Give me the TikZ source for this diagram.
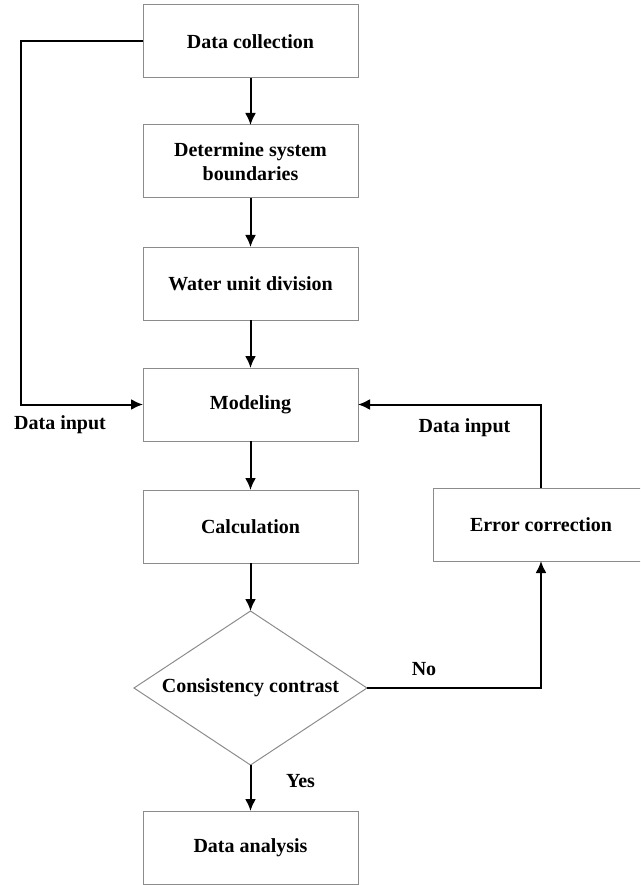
\documentclass[tikz,border=0pt]{standalone}
\usepackage{fontspec}
\setmainfont{Liberation Serif}
\usetikzlibrary{positioning,shapes.geometric,arrows.meta}

\tikzset{
	box/.style={draw=black!45,line width=1pt,minimum width=215pt,minimum height=73pt,
		inner sep=0pt,outer sep=0pt,align=center,font=\fontsize{20}{24}\selectfont\bfseries},
	decide/.style={diamond,draw=black!45,line width=1pt,minimum width=233pt,minimum height=154pt,
		aspect=1.5,inner sep=0pt,outer sep=0pt,font=\fontsize{20}{24}\selectfont\bfseries},
	flow/.style={line width=2pt,-{Latex[length=12pt,width=11pt]}},
	lab/.style={font=\fontsize{20}{24}\selectfont\bfseries}
}

\begin{document}
\begin{tikzpicture}[x=1pt,y=-1pt]
		\useasboundingbox (0,0) rectangle (640,885);
		\clip (0,0) rectangle (640,885);
		% main column
		\node[box] (collect) at (250.5,41.5) {Data collection};
		\node[box,below=47pt of collect] (bound) {Determine system\\boundaries};
		\node[box,below=49pt of bound] (unit) {Water unit division};
		\node[box,below=48pt of unit] (model) {Modeling};
		\node[box,below=49pt of model] (calc) {Calculation};
		\node[decide,below=48pt of calc] (check) {Consistency contrast};
		\node[box,below=46pt of check] (analysis) {Data analysis};
		% feedback branch
		\node[box] (error) at (541,524.5) {Error correction};
		\coordinate (lft) at (20.5,0);
		\path[flow]
			(collect) edge (bound)
			(bound) edge (unit)
			(unit) edge (model)
			(model) edge (calc)
			(calc) edge (check)
			(check) edge (analysis);
		\draw[flow] (collect.west) -- (collect.west -| lft) |- (model.west);
		\draw[flow] (error.north) |- (model.east);
		\draw[flow] (check.east) -| (error.south);
		% labels
		\node[lab] (inleft) at (60,425) {Data input};
		\node[lab] (inright) at (464.5,428) {Data input};
		\node[lab] (no) at (424,669) {No};
		\node[lab] (yes) at (300.5,781) {Yes};
	\end{tikzpicture}
\end{document}
